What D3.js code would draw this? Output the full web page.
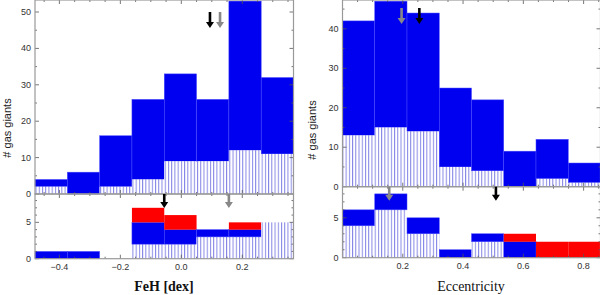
<!doctype html>
<html>
<head>
<meta charset="utf-8">
<script src="https://d3js.org/d3.v7.min.js"></script>
<style>
  body { margin: 0; background: #fff; }
  svg { display: block; }
  .tick-label { font-family: "Liberation Sans", Arial, sans-serif; font-size: 9px; fill: #333; }
  .ylab { font-family: "Liberation Sans", Arial, sans-serif; font-size: 11px; fill: #222; }
  .xlab { font-family: "Liberation Serif", "Times New Roman", serif; font-size: 14px; fill: #111; }
</style>
</head>
<body>
<script>
// ---- data ----
var fehEdges = [-0.48, -0.374, -0.268, -0.162, -0.056, 0.050, 0.156, 0.262, 0.368];
var fehTopTotal = [4, 6, 16, 26, 33, 26, 53, 32];
var fehTopHatched = [2, 0, 2, 4, 9, 9, 12, 11];
var fehBotHatched = [0, 0, 0, 2, 2, 3, 3, 5];
var fehBotBlue = [1, 1, 0, 3, 2, 1, 1, 0];
var fehBotRed = [0, 0, 0, 2, 2, 0, 1, 0];
var fehTicks = [-0.4, -0.2, 0.0, 0.2];
var fehArrowsTop = [{x: 0.094, c: "#000"}, {x: 0.127, c: "#888"}];
var fehArrowsBot = [{x: -0.056, c: "#000"}, {x: 0.156, c: "#888"}];

var eccEdges = [0.0, 0.107, 0.214, 0.321, 0.428, 0.535, 0.642, 0.749, 0.856];
var eccTopTotal = [42, 47, 44, 25, 22, 9, 12, 6];
var eccTopHatched = [13, 15, 14, 5, 4, 0, 2, 1];
var eccBotHatched = [4, 6, 3, 0, 2, 0, 0, 0];
var eccBotBlue = [2, 2, 2, 1, 1, 2, 0, 0];
var eccBotRed = [0, 0, 0, 0, 0, 1, 2, 2];
var eccTicks = [0.2, 0.4, 0.6, 0.8];
var eccArrowsTop = [{x: 0.196, c: "#888"}, {x: 0.255, c: "#000"}];
var eccArrowsBot = [{x: 0.155, c: "#888"}, {x: 0.509, c: "#000"}];

var topTicks = [0, 10, 20, 30, 40, 50];
var botTicks = [0, 5];

var BLUE = "#0000f0", RED = "#ff0000";

var svg = d3.select("body").append("svg").attr("width", 600).attr("height", 295);

var defs = svg.append("defs");
var pat = defs.append("pattern").attr("id", "hatch")
    .attr("patternUnits", "userSpaceOnUse").attr("width", 3.23).attr("height", 10);
pat.append("rect").attr("width", 3.23).attr("height", 10).attr("fill", "#fff");
pat.append("rect").attr("x", 0).attr("width", 1).attr("height", 10).attr("fill", "#8484e6");

function drawArrow(g, x, y0, len, color) {
    var hw = 4, sw = 1.3, hh = 6;
    var p = d3.path();
    p.moveTo(x - sw, y0);
    p.lineTo(x + sw, y0);
    p.lineTo(x + sw, y0 + len - hh);
    p.lineTo(x + hw, y0 + len - hh);
    p.lineTo(x, y0 + len);
    p.lineTo(x - hw, y0 + len - hh);
    p.lineTo(x - sw, y0 + len - hh);
    p.closePath();
    g.append("path").attr("d", p.toString()).attr("fill", color);
}

function frame(g, x, y, xMinor, yMinor, yMajor, xMajor) {
    var x0 = x.range()[0], x1 = x.range()[1], y0 = y.range()[0], y1 = y.range()[1];
    // ticks inside on all sides
    yMinor.forEach(function(v) {
        var big = yMajor.indexOf(v) >= 0;
        var L = big ? 4 : 2;
        g.append("line").attr("x1", x0).attr("x2", x0 + L).attr("y1", y(v)).attr("y2", y(v)).attr("stroke", "#555").attr("stroke-width", 0.8);
        g.append("line").attr("x1", x1).attr("x2", x1 - L).attr("y1", y(v)).attr("y2", y(v)).attr("stroke", "#555").attr("stroke-width", 0.8);
    });
    xMinor.forEach(function(v) {
        var big = xMajor.some(function(m) { return Math.abs(m - v) < 1e-6; });
        var L = big ? 4 : 2;
        g.append("line").attr("x1", x(v)).attr("x2", x(v)).attr("y1", y0).attr("y2", y0 - L).attr("stroke", "#555").attr("stroke-width", 0.8);
        g.append("line").attr("x1", x(v)).attr("x2", x(v)).attr("y1", y1).attr("y2", y1 + L).attr("stroke", "#555").attr("stroke-width", 0.8);
    });
    g.append("rect").attr("x", x0).attr("y", y1).attr("width", x1 - x0).attr("height", y0 - y1)
        .attr("fill", "none").attr("stroke", "#999").attr("stroke-width", 1.2);
}

function panel(opts) {
    var edges = opts.edges;
    var x = d3.scaleLinear().domain([edges[0], edges[edges.length - 1]]).range(opts.xRange);
    var yT = d3.scaleLinear().domain([0, opts.topMax]).range([opts.topBottom, 0]);
    var yB = d3.scaleLinear().domain([0, 8.9]).range([opts.botBottom, opts.topBottom]);
    var g = svg.append("g");

    var gt = g.append("g");
    d3.range(8).forEach(function(i) {
        var xa = x(edges[i]), xb = x(edges[i + 1]);
        gt.append("rect").attr("x", xa).attr("width", xb - xa)
            .attr("y", yT(opts.topTotal[i])).attr("height", yT(opts.topHatched[i]) - yT(opts.topTotal[i]))
            .attr("fill", BLUE).attr("stroke", "#4a4aff").attr("stroke-width", 0.5);
        if (opts.topHatched[i] > 0)
            gt.append("rect").attr("x", xa).attr("width", xb - xa)
                .attr("y", yT(opts.topHatched[i])).attr("height", yT(0) - yT(opts.topHatched[i]))
                .attr("fill", "url(#hatch)");
    });

    var gb = g.append("g");
    d3.range(8).forEach(function(i) {
        var xa = x(edges[i]), xb = x(edges[i + 1]);
        var h = opts.botHatched[i], b = opts.botBlue[i], r = opts.botRed[i];
        if (h > 0) gb.append("rect").attr("x", xa).attr("width", xb - xa)
            .attr("y", yB(h)).attr("height", yB(0) - yB(h)).attr("fill", "url(#hatch)");
        if (b > 0) gb.append("rect").attr("x", xa).attr("width", xb - xa)
            .attr("y", yB(h + b)).attr("height", yB(h) - yB(h + b)).attr("fill", BLUE)
            .attr("stroke", "#4a4aff").attr("stroke-width", 0.5);
        if (r > 0) gb.append("rect").attr("x", xa).attr("width", xb - xa)
            .attr("y", yB(h + b + r)).attr("height", yB(h + b) - yB(h + b + r)).attr("fill", RED);
    });

    var xMinor = d3.range(-1, 1.001, 0.05).map(function(v) { return Math.round(v * 100) / 100; })
        .filter(function(v) { return v > edges[0] && v < edges[edges.length - 1]; });
    frame(g, x, yT, xMinor, d3.range(0, opts.topMax, 5), topTicks, opts.ticks);
    frame(g, x, yB, xMinor, d3.range(0, 9, 1), botTicks, opts.ticks);

    topTicks.filter(function(v) { return v < opts.topMax; }).forEach(function(v) {
        g.append("text").attr("class", "tick-label").attr("x", opts.xRange[0] - 4).attr("y", yT(v) + 3)
            .attr("text-anchor", "end").text(v);
    });
    botTicks.forEach(function(v) {
        g.append("text").attr("class", "tick-label").attr("x", opts.xRange[0] - 4).attr("y", yB(v) + 3)
            .attr("text-anchor", "end").text(v);
    });
    opts.ticks.forEach(function(v) {
        g.append("text").attr("class", "tick-label").attr("x", x(v)).attr("y", opts.botBottom + 11)
            .attr("text-anchor", "middle").text(d3.format(".1f")(v).replace("-", "\u2212"));
    });

    opts.arrowsTop.forEach(function(a) { drawArrow(g, x(a.x), opts.arrowTopY, 16, a.c); });
    opts.arrowsBot.forEach(function(a) { drawArrow(g, x(a.x), opts.topBottom, 14, a.c); });

    g.append("text").attr("class", "ylab")
        .attr("transform", "translate(" + opts.ylabX + "," + opts.ylabY + ") rotate(-90)")
        .attr("text-anchor", "middle").text("# gas giants");
    g.append("text").attr("class", "xlab").attr("x", opts.xlabX).attr("y", 291)
        .attr("text-anchor", "middle").attr("font-weight", opts.xlabBold ? "bold" : "normal")
        .attr("xml:space", "preserve")
        .text(opts.xlab);
}

panel({
    edges: fehEdges, xRange: [35, 293.5], topMax: 53.3, topBottom: 194, botBottom: 258.7,
    topTotal: fehTopTotal, topHatched: fehTopHatched,
    botHatched: fehBotHatched, botBlue: fehBotBlue, botRed: fehBotRed,
    ticks: fehTicks, arrowsTop: fehArrowsTop, arrowsBot: fehArrowsBot, arrowTopY: 12,
    ylabX: 11, ylabY: 128, xlab: "FeH [dex]", xlabX: 164, xlabBold: true
});
panel({
    edges: eccEdges, xRange: [342.5, 600.5], topMax: 47.3, topBottom: 186.7, botBottom: 257.7,
    topTotal: eccTopTotal, topHatched: eccTopHatched,
    botHatched: eccBotHatched, botBlue: eccBotBlue, botRed: eccBotRed,
    ticks: eccTicks, arrowsTop: eccArrowsTop, arrowsBot: eccArrowsBot, arrowTopY: 8,
    ylabX: 316, ylabY: 130, xlab: "Eccentricity", xlabX: 471, xlabBold: false
});
</script>
</body>
</html>
